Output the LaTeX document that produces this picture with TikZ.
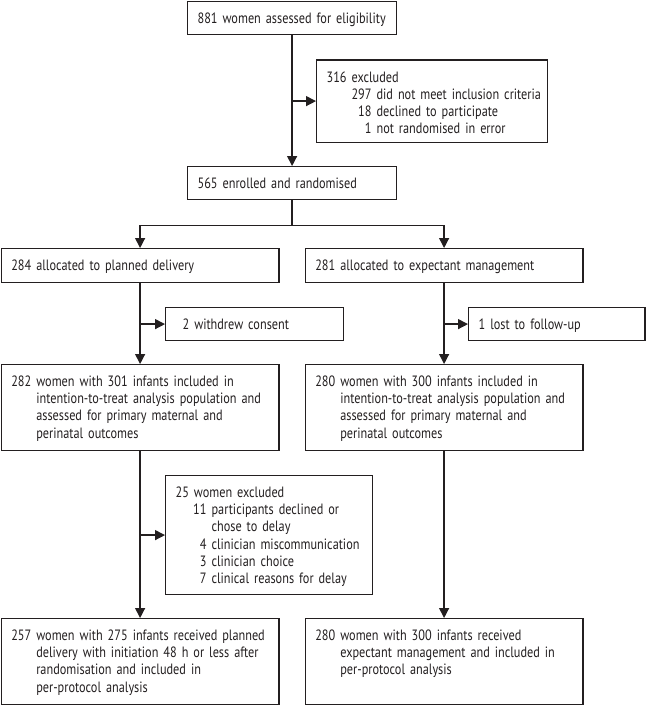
\documentclass[tikz,border=0pt]{standalone}
\usepackage{fontspec}
\setmainfont[FakeStretch=0.82]{PT Sans}
\usetikzlibrary{arrows.meta}
\definecolor{ink}{HTML}{231F20}
\tikzset{
  box/.style={draw=ink, line width=1.2bp, anchor=north west, inner ysep=0bp, inner xsep=10bp,
    align=left, text=ink, font=\fontsize{15}{17.2}\selectfont, text height=22bp},
  flow/.style={draw=ink, line width=1.3bp},
  arr/.style={flow, -{Triangle[length=10bp,width=10bp]}},
}
\newcommand\numr[2]{\makebox[#1][r]{#2}}
\begin{document}
\begin{tikzpicture}[x=1bp,y=-1bp]
\useasboundingbox (0,0) rectangle (646,705);
% boxes
\node[box, text width=189bp, text depth=11bp] (elig) at (187,0.7) {881 women assessed for eligibility};
\node[box, text width=211bp, text depth=60bp] (excl) at (316,59.5) {316 excluded\\
\mbox{\numr{45bp}{297} did not meet inclusion criteria}\\
\mbox{\numr{45bp}{18} declined to participate}\\
\mbox{\numr{45bp}{1} not randomised in error}};
\node[box, text width=189bp, text depth=10.5bp] (rand) at (187,166) {565 enrolled and randomised};
\node[box, text width=257.6bp, text depth=12bp] (plan) at (0.7,248) {284 allocated to planned delivery};
\node[box, text width=257.6bp, text depth=12bp] (expt) at (304.7,248) {281 allocated to expectant management};
\node[box, inner xsep=17bp, text width=144bp, text depth=11bp] (wdr) at (165,307) {2 withdrew consent};
\node[box, text width=156.3bp, text depth=11bp] (lost) at (468,307) {1 lost to follow-up};
\node[box, text width=257.6bp, text depth=64bp] (ittp) at (0.7,364) {\mbox{282 women with 301 infants included in}\\
\mbox{\phantom{282} intention-to-treat analysis population and}\\
\mbox{\phantom{282} assessed for primary maternal and}\\
\mbox{\phantom{282} perinatal outcomes}};
\node[box, text width=257.6bp, text depth=64bp] (itte) at (304.7,364) {\mbox{280 women with 300 infants included in}\\
\mbox{\phantom{280} intention-to-treat analysis population and}\\
\mbox{\phantom{280} assessed for primary maternal and}\\
\mbox{\phantom{280} perinatal outcomes}};
\node[box, text width=187bp, text depth=97bp] (wexc) at (165,475) {25 women excluded\\
\mbox{\numr{31bp}{11} participants declined or}\\
\mbox{\numr{31bp}{} chose to delay}\\
\mbox{\numr{31bp}{4} clinician miscommunication}\\
\mbox{\numr{31bp}{3} clinician choice}\\
\mbox{\numr{31bp}{7} clinical reasons for delay}};
\node[box, text width=257.6bp, text depth=64bp] (ppp) at (0.7,618) {\mbox{257 women with 275 infants received planned}\\
\mbox{\phantom{257} delivery with initiation 48 h or less after}\\
\mbox{\phantom{257} randomisation and included in}\\
\mbox{\phantom{257} per-protocol analysis}};
\node[box, text width=257.6bp, text depth=64bp] (ppe) at (304.7,618) {\mbox{280 women with 300 infants received}\\
\mbox{\phantom{280} expectant management and included in}\\
\mbox{\phantom{280} per-protocol analysis}};
% connectors
\draw[arr] (elig.south) -- (rand.north);
\coordinate (b1) at (elig.south |- excl.west);
\draw[arr] (b1) -- (excl.west);
\path (rand.south) ++(0,26) coordinate (split);
\draw[flow] (rand.south) -- (split);
\draw[arr] (split) -| (plan.north);
\draw[arr] (split) -| (expt.north);
\draw[arr] (plan.south) -- (ittp.north);
\coordinate (b2) at (plan.south |- wdr.west);
\draw[arr] (b2) -- (wdr.west);
\draw[arr] (expt.south) -- (itte.north);
\coordinate (b3) at (expt.south |- lost.west);
\draw[arr] (b3) -- (lost.west);
\draw[arr] (ittp.south) -- (ppp.north);
\coordinate (b4) at (ittp.south |- wexc.west);
\draw[arr] (b4) -- (wexc.west);
\draw[arr] (itte.south) -- (ppe.north);
\end{tikzpicture}
\end{document}
